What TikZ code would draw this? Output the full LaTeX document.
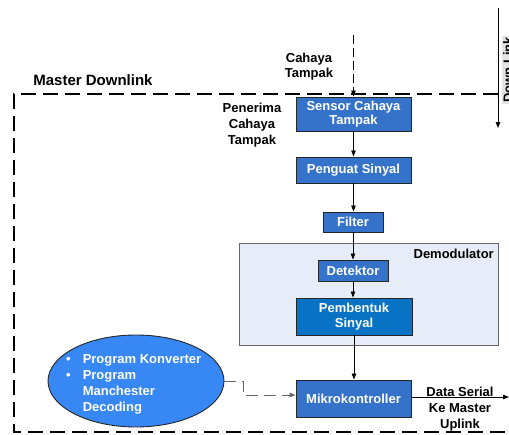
\documentclass[tikz,border=0pt]{standalone}
\usepackage{fontspec}
\setmainfont{Liberation Sans}
\usetikzlibrary{arrows.meta,shapes.geometric}
\definecolor{boxblue}{HTML}{3473C9}
\definecolor{darkblue}{HTML}{0872C4}
\definecolor{ellblue}{HTML}{3787F4}
\definecolor{demfill}{HTML}{E7EDF8}
\definecolor{linkgray}{HTML}{E4E4E4}
\begin{document}
\begin{tikzpicture}[x=1pt,y=-1pt,
  font=\bfseries\fontsize{13}{16}\selectfont,
  tip/.style={-{Triangle[length=6pt,width=4.5pt]}},
  blk/.style={draw=black!85, line width=0.9pt, fill=boxblue, text=white, align=center, inner sep=0pt},
  lbl/.style={align=center, inner sep=0pt, text=black},
  outer/.style={line width=1.4pt, dash pattern=on 15pt off 7pt}]
\useasboundingbox (0,0) rectangle (509,434);
\clip (0,0) rectangle (509,434);

% outer dashed frame
\draw[outer] (520,94) -- (14,94) -- (14,432) -- (520,432);
\node[lbl, font=\bfseries\fontsize{15}{18}\selectfont] (master) at (93,80) {Master Downlink};

% Down Link
\node[fill=linkgray, rotate=90, inner sep=1.5pt, text=black] (downlink) at (508,70) {Down Link};
\coordinate (dlA) at (498,8);
\coordinate (dlB) at (498,128);
\draw[tip, line width=0.8pt] (dlA) -- (dlB);

% demodulator frame
\node[draw=black!60, line width=0.9pt, fill=demfill, minimum width=259pt, minimum height=102pt, inner sep=0pt] (demod) at (368.5,294) {};
\node[lbl, anchor=east] (demodlbl) at (494,254) {Demodulator};

% blocks
\node[blk, minimum width=115pt, minimum height=34pt] (sensor) at (353.5,114) {Sensor Cahaya\\[-2pt]Tampak};
\node[blk, minimum width=115pt, minimum height=26pt] (penguat) at (353.5,170) {Penguat Sinyal};
\node[blk, minimum width=60pt, minimum height=20pt] (filter) at (353,222) {Filter};
\node[blk, minimum width=70pt, minimum height=21pt] (detektor) at (353,270.5) {Detektor};
\node[blk, fill=darkblue, minimum width=116pt, minimum height=37pt] (pembentuk) at (354,316.5) {Pembentuk\\[-1pt]Sinyal};
\node[blk, minimum width=115pt, minimum height=37pt] (mikro) at (353.5,398.5) {Mikrokontroller};

% ellipse
\node[draw=black!85, line width=0.9pt, fill=ellblue, ellipse, minimum width=176pt, minimum height=92pt, inner sep=0pt] (ell) at (136,381) {};
\node[anchor=west, inner sep=0pt, text=white] (elltext) at (66,384)
  {\begin{tabular}{@{}l@{\hspace{12pt}}l@{}}\textbullet & Program Konverter\\ \textbullet & Program\\ & Manchester\\ & Decoding\end{tabular}};

% labels
\node[lbl] (cahaya) at (309,67) {Cahaya\\[-1pt]Tampak};
\node[lbl] (penerima) at (252,125) {Penerima\\Cahaya\\Tampak};
\node[lbl] (dataserial) at (460,409) {Data Serial\\Ke Master\\Uplink};

% connectors
\coordinate (inTop) at (353.5,35);
\draw[tip, line width=0.8pt, dash pattern=on 9pt off 4pt] (inTop) -- (sensor.north);
\draw[tip, line width=0.8pt] (sensor) -- (penguat);
\draw[tip, line width=0.8pt] (penguat.south) -- (penguat.south |- filter.north);
\draw[tip, line width=0.8pt] (filter) -- (detektor);
\draw[tip, line width=0.8pt] (detektor) -- (detektor.south |- pembentuk.north);
\draw[tip, line width=0.8pt] (pembentuk.south) -- (pembentuk.south |- mikro.north);
\coordinate (bendA) at (243,381);
\coordinate (bendB) at (243,395);
\draw[tip, line width=1pt, draw=black!60, dash pattern=on 12pt off 6pt] (ell.east) -- (bendA) -- (bendB) -- (mikro.west |- bendB);
\coordinate (outEnd) at (509,397);
\draw[tip, line width=0.8pt] (mikro.east |- outEnd) -- (outEnd);
\end{tikzpicture}
\end{document}
